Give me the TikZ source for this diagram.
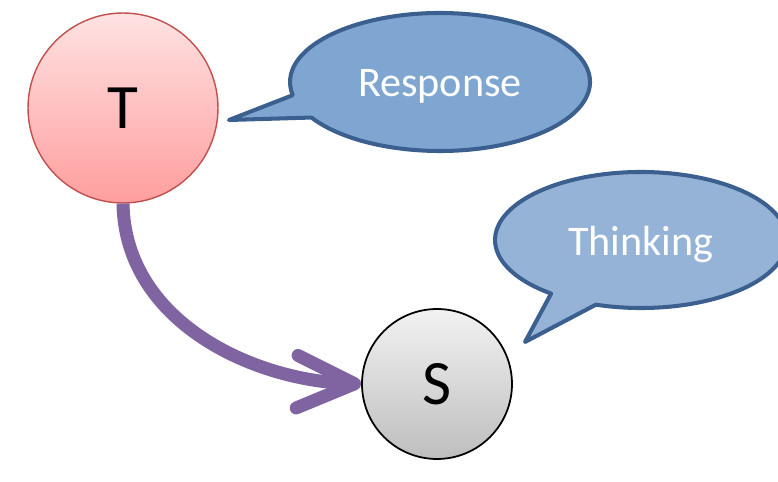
\documentclass[tikz,border=0pt]{standalone}
\usepackage{fontspec}
\setmainfont{Carlito}
\usepackage{tikz}
\usetikzlibrary{arrows.meta,positioning,calc}

\definecolor{tred}{RGB}{192,80,77}
\definecolor{bubbleline}{RGB}{59,95,143}
\definecolor{respfill}{RGB}{126,166,208}
\definecolor{thinkfill}{RGB}{149,179,215}
\definecolor{arrowpurple}{RGB}{128,100,162}

\begin{document}
\begin{tikzpicture}[x=0.02cm, y=0.02cm,
    bubble/.style={draw=bubbleline, line width=2.3pt, line join=round},
    bubbletext/.style={text=white, font=\fontsize{24}{28}\selectfont}]
    \clip (0,0) rectangle (778,-482);

    % T
    \node[circle, draw=tred, line width=0.8pt, top color={rgb,255:red,255;green,226;blue,226},
        bottom color={rgb,255:red,255;green,158;blue,158}, minimum size=3.8cm,
        font=\fontsize{36}{36}\selectfont] (T) at (123,-108) {T};

    % S
    \node[circle, draw=black, line width=1pt, top color={rgb,255:red,242;green,242;blue,242},
        bottom color={rgb,255:red,190;green,190;blue,190}, minimum size=3.0cm,
        font=\fontsize{36}{36}\selectfont] (S) at (437,-384) {S};

    % Arrow from T to S
    \draw[arrowpurple, line width=7.4pt, -{Straight Barb[length=1.15cm, width=1.05cm, round]}]
        (T.south) .. controls (125,-320) and (250,-380) .. (S.west);

    % Response bubble
    \coordinate (rc) at (440,-82);
    \coordinate (rtip) at (229,-120);
    \fill[respfill] ($(rc)+(211:150 and 69)$) arc[start angle=211, end angle=551, x radius=150, y radius=69] -- (rtip) -- cycle;
    \draw[bubble] ($(rc)+(211:150 and 69)$) arc[start angle=211, end angle=551, x radius=150, y radius=69] -- (rtip) -- cycle;
    \node[bubbletext] (resp) at (440,-86) {Response};

    % Thinking bubble
    \coordinate (tc) at (641,-240);
    \coordinate (ttip) at (525,-342);
    \fill[thinkfill] ($(tc)+(252:146 and 68)$) arc[start angle=252, end angle=592, x radius=146, y radius=68] -- (ttip) -- cycle;
    \draw[bubble] ($(tc)+(252:146 and 68)$) arc[start angle=252, end angle=592, x radius=146, y radius=68] -- (ttip) -- cycle;
    \node[bubbletext] (think) at (641,-244) {Thinking};
\end{tikzpicture}
\end{document}
